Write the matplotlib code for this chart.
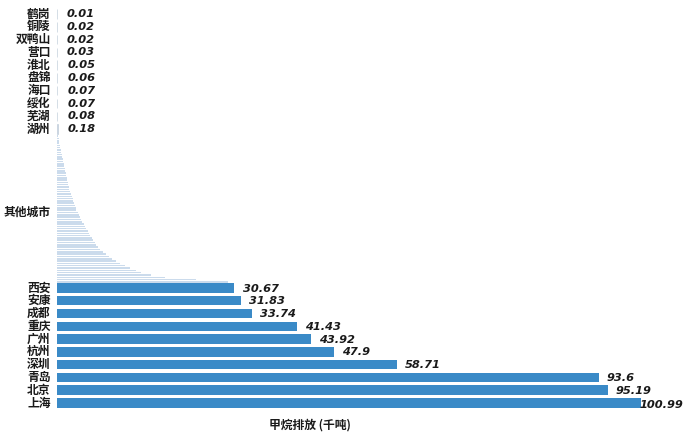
import numpy as np
import matplotlib
matplotlib.use("Agg")
import matplotlib.pyplot as plt

plt.rcParams['font.family'] = ['Noto Sans CJK SC', 'DejaVu Sans']

top_cities = ["鹤岗", "铜陵", "双鸭山", "营口", "淮北", "盘锦", "海口", "绥化", "芜湖", "湖州"]
top_values = [0.01, 0.02, 0.02, 0.03, 0.05, 0.06, 0.07, 0.07, 0.08, 0.18]
top_labels = ["0.01", "0.02", "0.02", "0.03", "0.05", "0.06", "0.07", "0.07", "0.08", "0.18"]

other_label = "其他城市"
other_values = [0.25, 0.3, 0.35, 0.4, 0.5, 0.55, 0.65, 0.7, 0.8, 0.9,
                1.0, 1.05, 1.15, 1.25, 1.3, 1.4, 1.5, 1.55, 1.65, 1.75,
                1.85, 1.95, 2.05, 2.15, 2.3, 2.4, 2.55, 2.7, 2.8, 2.95,
                3.1, 3.2, 3.35, 3.55, 3.75, 3.95, 4.15, 4.35, 4.6, 4.85,
                5.05, 5.3, 5.5, 5.75, 6.0, 6.2, 6.5, 6.8, 7.1, 7.4,
                7.9, 8.4, 8.9, 9.5, 10.2, 10.9, 11.7, 12.6, 13.6, 14.6,
                16.2, 18.6, 24.0, 29.5]

bottom_cities = ["西安", "安康", "成都", "重庆", "广州", "杭州", "深圳", "青岛", "北京", "上海"]
bottom_values = [30.67, 31.83, 33.74, 41.43, 43.92, 47.9, 58.71, 93.6, 95.19, 100.99]
bottom_labels = ["30.67", "31.83", "33.74", "41.43", "43.92", "47.9", "58.71", "93.6", "95.19", "100.99"]

xlabel = "甲烷排放 (千吨)"

W, H = 693, 434
fig = plt.figure(figsize=(W / 100, H / 100), dpi=100)
ax = fig.add_axes([57 / W, (434 - 409.4) / H, 625 / W, 401.8 / H])

# positions in slot units
y_top = np.arange(len(top_cities))
y_bottom = 21.42 + np.arange(len(bottom_cities))
y_other = np.linspace(9.55, 20.95, len(other_values))

main_color = '#3a8ac7'
light_color = '#cbdbec'

ax.barh(y_top, top_values, height=0.74, color='#c4d0dc', edgecolor='#c4d0dc', linewidth=0.5)
ax.barh(y_other, other_values, height=0.12, color=light_color, linewidth=0)
ax.barh(y_bottom, bottom_values, height=0.74, color=main_color, linewidth=0)

ax.set_xlim(0, 108)
ax.set_ylim(30.42 + 0.5, -0.5)
ax.axis('off')

val_font = dict(family='DejaVu Sans', fontsize=8.2, fontweight='bold', style='italic', color='#1a1a1a')
lab_font = dict(fontsize=8.5, fontweight='bold', color='#1a1a1a')

for y, v, t, c in zip(y_top, top_values, top_labels, top_cities):
    ax.text(v + 1.7, y, t, va='center', ha='left', **val_font)
    ax.text(-1.1, y, c, va='center', ha='right', **lab_font)

for y, v, t, c in zip(y_bottom, bottom_values, bottom_labels, bottom_cities):
    if v > 100:
        ax.text(v - 0.4, y + 0.18, t, va='center', ha='left', **val_font)
    else:
        ax.text(v + 1.4, y + 0.05, t, va='center', ha='left', **val_font)
    ax.text(-1.1, y, c, va='center', ha='right', **lab_font)

ax.text(-1.1, (212 - 7.6) / 12.79 - 0.5, other_label, va='center', ha='right', **lab_font)

fig.text(310 / W, 1 - 425 / H, xlabel, ha='center', va='center', fontsize=8.5, fontweight='bold', color='#1a1a1a')

fig.savefig("out.png", dpi=100)
